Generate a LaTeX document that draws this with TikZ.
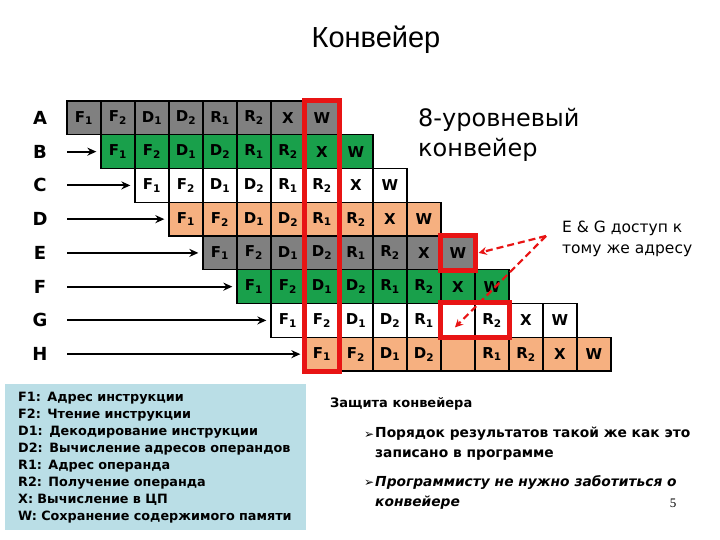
\documentclass[tikz,border=0pt]{standalone}
\usepackage{fontspec}
\setmainfont{DejaVu Sans}
\newfontfamily\titlefont{Liberation Sans}
\newfontfamily\pagefont{Liberation Serif}
\usetikzlibrary{arrows.meta}
\definecolor{cellgray}{RGB}{128,128,128}
\definecolor{cellgreen}{RGB}{25,160,75}
\definecolor{cellpeach}{RGB}{246,176,128}
\definecolor{legendblue}{RGB}{186,222,230}
\definecolor{hazard}{RGB}{232,20,20}
\tikzset{
  >={Stealth[length=9pt,width=8pt]},
  cell/.style={draw=black,line width=1.3pt,fill=#1,minimum width=34pt,minimum height=33.75pt,
    inner sep=0pt,font=\fontsize{15}{15}\selectfont\bfseries},
  cell/.default=white,
  rowlbl/.style={font=\fontsize{18}{18}\selectfont\bfseries},
  feed/.style={->,line width=2pt},
  hazardbox/.style={draw=hazard,line width=5pt},
  hazardarrow/.style={-{Stealth[length=8pt,width=8pt]},draw=hazard,line width=2.2pt,
    dash pattern=on 7pt off 4pt},
  title/.style={font=\titlefont\fontsize{29}{29}\selectfont},
  bigtag/.style={font=\fontsize{24}{30}\selectfont,align=left,anchor=north west,inner sep=0pt},
  note/.style={font=\fontsize{15.5}{21}\selectfont,align=left,anchor=west,inner sep=0pt},
  legend/.style={fill=legendblue,anchor=north west,minimum width=301pt,minimum height=146pt,
    inner xsep=13pt,text width=275pt,align=left,font=\fontsize{12.8}{17}\selectfont\bfseries},
  point/.style={font=\fontsize{13.8}{20}\selectfont\bfseries,align=left,anchor=north west,inner sep=0pt},
  bullet/.style={font=\fontsize{12}{12}\selectfont,anchor=base west,inner sep=0pt},
}
\begin{document}
\begin{tikzpicture}[x=1pt,y=-1pt]
  \useasboundingbox (0,0) rectangle (720,540);
  \node[title] (title) at (376,40) {Конвейер};

  \foreach \r/\clr/\lbl in {0/cellgray/A,1/cellgreen/B,2/white/C,3/cellpeach/D,4/cellgray/E,5/cellgreen/F}
  {
    \node[rowlbl] (row\r) at (40,117.9+33.75*\r) {\lbl};
    \foreach \t [count=\k from 0] in {F\textsubscript{1},F\textsubscript{2},D\textsubscript{1},D\textsubscript{2},
      R\textsubscript{1},R\textsubscript{2},X,W}
    {
      \pgfmathtruncatemacro{\colno}{\r+\k}
      \node[cell=\clr] (c\r-\colno) at (84+34*\colno,117.9+33.75*\r) {\t};
    }
  }
  \node[rowlbl] (row6) at (40,117.9+33.75*6) {G};
  \foreach \t [count=\k from 6] in {F\textsubscript{1},F\textsubscript{2},D\textsubscript{1},D\textsubscript{2},
    R\textsubscript{1},{},R\textsubscript{2},X,W}
    \node[cell] (c6-\k) at (84+34*\k,117.9+33.75*6) {\t};
  \node[rowlbl] (row7) at (40,117.9+33.75*7) {H};
  \foreach \t [count=\k from 7] in {F\textsubscript{1},F\textsubscript{2},D\textsubscript{1},D\textsubscript{2},
    {},R\textsubscript{1},R\textsubscript{2},X,W}
    \node[cell=cellpeach] (c7-\k) at (84+34*\k,117.9+33.75*7) {\t};

  \foreach \r in {1,...,7}
  {
    \coordinate (s\r) at (67,117.9+33.75*\r);
    \draw[feed] (s\r) -- ([xshift=-4pt]c\r-\r.west);
  }

  \draw[hazardbox] (c0-7.north west) rectangle (c7-7.south east);
  \draw[hazardbox] (c4-11.north west) rectangle (c4-11.south east);
  \draw[hazardbox] (c6-11.north west) rectangle (c6-12.south east);

  \node[bigtag] (depth) at (418,108) {8-уровневый\\конвейер};
  \node[note] (note) at (562,239) {E \& G доступ к\\тому же адресу};
  \coordinate (hz) at ([xshift=-16pt,yshift=3pt]note.west);
  \draw[hazardarrow] (hz) -- ([xshift=3pt]c4-11.east);
  \draw[hazardarrow] (hz) -- ([xshift=-3pt,yshift=-7pt]c6-11.center);

  \node[legend] (legend) at (5,384) {F1: Адрес инструкции\\F2: Чтение инструкции\\
    D1: Декодирование инструкции\\D2: Вычисление адресов операндов\\R1: Адрес операнда\\
    R2: Получение операнда\\X: Вычисление в ЦП\\W: Сохранение содержимого памяти};

  \node[font=\fontsize{13}{13}\selectfont\bfseries,anchor=base west,inner sep=0pt] (guard) at (330,407) {Защита конвейера};
  \node[bullet] (b1) at (364,438) {➢};
  \node[point] (p1) at (375,427) {Порядок результатов такой же как это\\записано в программе};
  \node[bullet] (b2) at (364,486) {➢};
  \node[point,font=\fontsize{13.8}{20}\selectfont\bfseries\itshape] (p2) at (375,475) {Программисту не нужно заботиться о\\конвейере};
  \node[font=\pagefont\fontsize{13}{13}\selectfont,anchor=base] (page) at (673,507) {5};
\end{tikzpicture}
\end{document}
